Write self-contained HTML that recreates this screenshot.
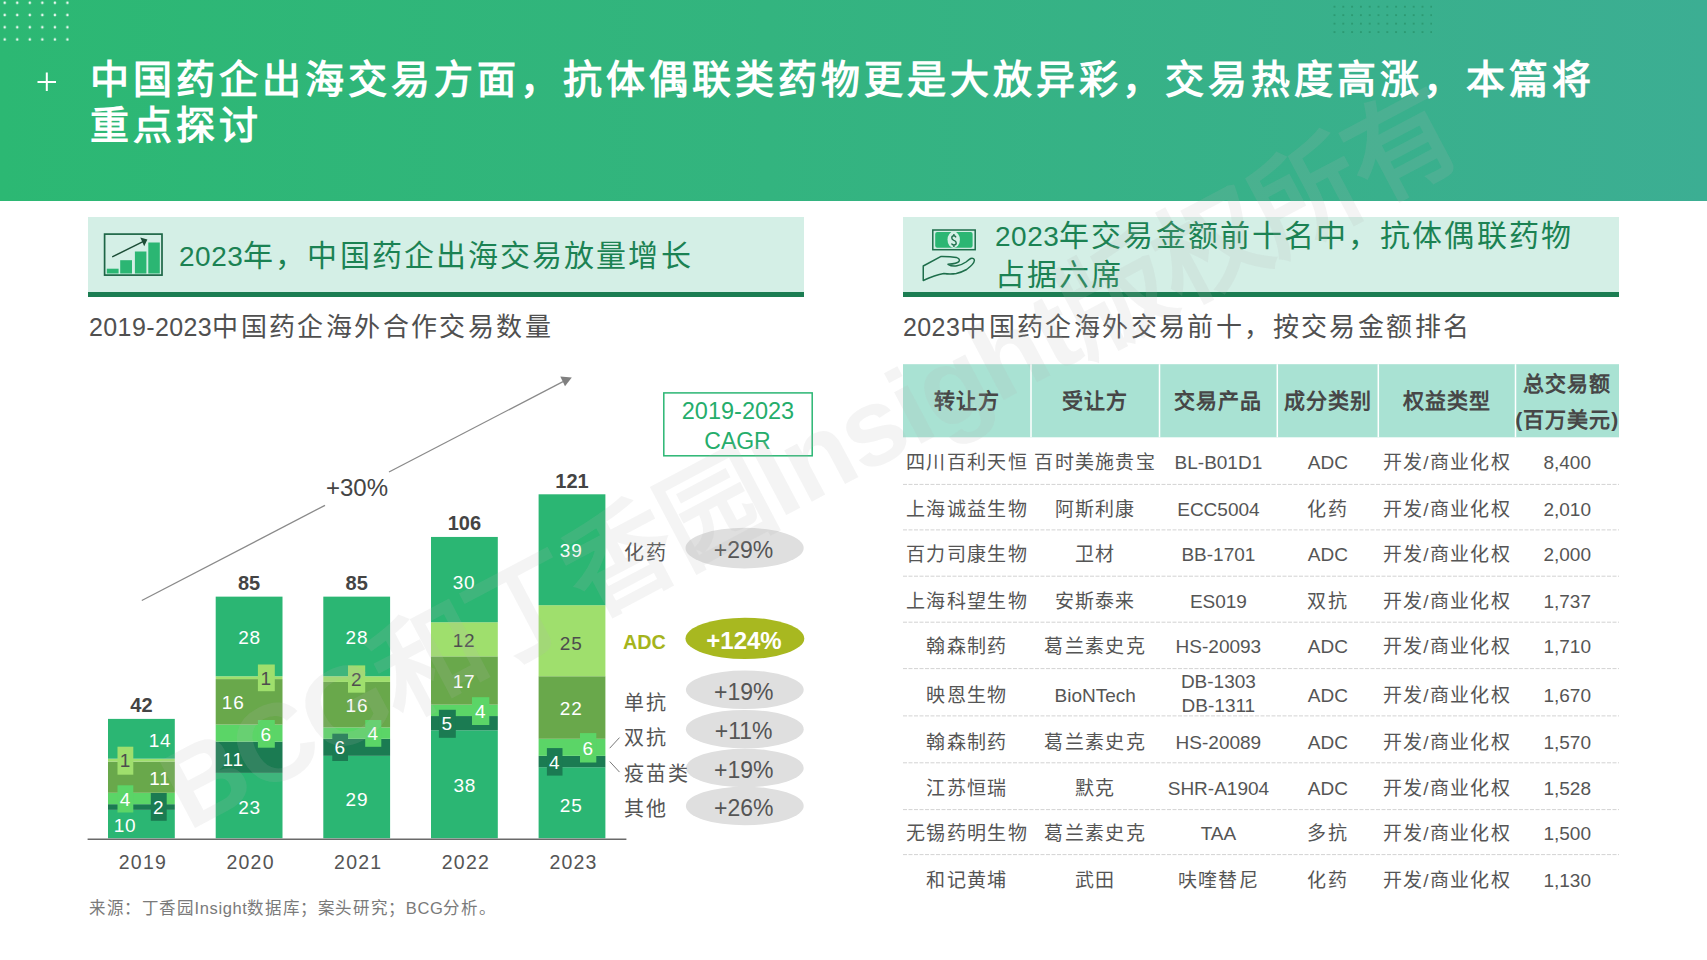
<!DOCTYPE html>
<html lang="zh-CN"><head><meta charset="utf-8"><title>slide</title>
<style>
html,body{margin:0;padding:0;}
body{width:1707px;height:960px;overflow:hidden;position:relative;background:#fff;font-family:"Liberation Sans",sans-serif;}
.abs{position:absolute;white-space:nowrap;}
#hdr{position:absolute;left:0;top:0;width:1707px;height:201px;background:linear-gradient(90deg,#2cb873 0%,#33b47f 45%,#3cae93 100%);}
.ttl{position:absolute;left:90px;color:#fff;font-weight:bold;font-size:39px;letter-spacing:4px;line-height:46px;white-space:nowrap;}
.secbox{position:absolute;top:217px;height:75px;width:716px;background:#d4efe6;border-bottom:5px solid #1b7d52;}
.sect{position:absolute;color:#1b8253;font-size:30px;letter-spacing:2.1px;white-space:nowrap;}
.sub{position:absolute;top:311px;color:#505050;font-size:26px;letter-spacing:2.4px;white-space:nowrap;line-height:32px;}
svg text{font-family:"Liberation Sans",sans-serif;}
.tot{font-size:20px;font-weight:bold;fill:#444;text-anchor:middle;dominant-baseline:central;}
.yr{font-size:19.5px;letter-spacing:1.2px;fill:#555;text-anchor:middle;dominant-baseline:central;}
.bl{font-size:19px;letter-spacing:0.8px;text-anchor:middle;dominant-baseline:central;}
.lg{font-size:20px;fill:#555;letter-spacing:2px;dominant-baseline:central;}
.pct{font-size:23px;fill:#555;text-anchor:middle;dominant-baseline:central;}
.th{font-size:21px;font-weight:bold;fill:#474747;text-anchor:middle;dominant-baseline:central;letter-spacing:1px;}
.td{font-size:19px;fill:#555;text-anchor:middle;dominant-baseline:central;letter-spacing:1.3px;}
.tl{letter-spacing:0;}
</style></head><body>
<div id="hdr"></div>
<svg class="abs" style="left:0;top:0" width="1707" height="201">
<defs>
<pattern id="dw" x="4.7" y="2.8" width="12.55" height="12.25" patternUnits="userSpaceOnUse"><circle cx="0" cy="0" r="1.3" fill="#e9f7ef"/><circle cx="12.55" cy="0" r="1.3" fill="#e9f7ef"/><circle cx="0" cy="12.25" r="1.3" fill="#e9f7ef"/><circle cx="12.55" cy="12.25" r="1.3" fill="#e9f7ef"/></pattern>
<pattern id="dg" x="1334.5" y="6.7" width="8.8" height="8.47" patternUnits="userSpaceOnUse"><circle cx="0" cy="0" r="1.0" fill="#27936a"/><circle cx="8.8" cy="0" r="1.0" fill="#27936a"/><circle cx="0" cy="8.47" r="1.0" fill="#27936a"/><circle cx="8.8" cy="8.47" r="1.0" fill="#27936a"/></pattern>
</defs>
<rect x="3" y="1" width="66" height="40" fill="url(#dw)"/>
<rect x="1333" y="5" width="99" height="29" fill="url(#dg)"/>
<rect x="37.5" y="81" width="18.5" height="2" fill="#fff"/>
<rect x="45.8" y="72.5" width="2" height="18.5" fill="#fff"/>
</svg>
<div class="ttl" style="top:56.5px;">中国药企出海交易方面，抗体偶联类药物更是大放异彩，交易热度高涨，本篇将</div>
<div class="ttl" style="top:102.5px;">重点探讨</div>

<div class="secbox" style="left:88px;"></div>
<div class="secbox" style="left:903px;"></div>
<!-- chart icon -->
<svg class="abs" style="left:0;top:0" width="1707" height="300">
<rect x="104.6" y="234.1" width="57.4" height="41" fill="none" stroke="#1d6546" stroke-width="1.7"/>
<rect x="106.8" y="268.7" width="11.8" height="4.8" fill="#2bb673"/>
<rect x="120.2" y="260.2" width="11.8" height="13.3" fill="#2bb673"/>
<rect x="134.9" y="251.5" width="11.5" height="22" fill="#2bb673"/>
<rect x="148.3" y="242.5" width="11.5" height="31" fill="#2bb673"/>
<line x1="112.2" y1="256.9" x2="144" y2="241.2" stroke="#1d4d37" stroke-width="1.5"/>
<path d="M140.3 237.6 L147.4 239.6 L144.2 246.2 Z" fill="#1d4d37"/>
<!-- money icon -->
<rect x="932.8" y="230" width="42.4" height="19.7" fill="none" stroke="#1e6e4b" stroke-width="1.5"/>
<rect x="935.2" y="232" width="37.4" height="15.8" rx="2" fill="#2bb673"/>
<ellipse cx="953.7" cy="239.8" rx="6.2" ry="8.2" fill="#d4efe6"/>
<path d="M956 237.3 Q955.2 235.8 953.9 235.8 Q951.8 235.8 951.8 237.9 Q951.8 239.6 953.9 240.3 Q956.2 241 956.2 243 Q956.2 245 953.9 245 Q952.2 245 951.5 243.5 M953.9 234.1 L953.9 235.8 M953.9 245 L953.9 246.9" fill="none" stroke="#1e6e4b" stroke-width="1.4"/>
<path d="M923.25 266 L941.1 256.4 Q950 256.3 956.3 257.4 Q960.5 258.8 959 261.5 Q957.5 263.6 948 264.3 Q952 266.8 957 265.8 Q962 264.8 966 262 Q969 259.5 970.7 258.5 Q974.3 257.8 974.4 260.5 Q974 264 966.6 269.5 Q961 272.5 956.3 273.6 Q950 274.6 943.9 273.6 Q935 275.3 923.25 280.5 Z" fill="none" stroke="#1e6e4b" stroke-width="1.5" stroke-linejoin="round"/>
</svg>
<div class="sect" style="left:179px;top:236px;line-height:40px;"><span style="font-size:28px;letter-spacing:0.5px">2023</span>年，中国药企出海交易放量增长</div>
<div class="sect" style="left:995px;top:217px;line-height:38px;"><span style="font-size:28px;letter-spacing:0.5px">2023</span>年交易金额前十名中，抗体偶联药物<br>占据六席</div>

<div class="sub" style="left:89px;"><span style="font-size:25px;letter-spacing:0.4px">2019-2023</span>中国药企海外合作交易数量</div>
<div class="sub" style="left:903px;"><span style="font-size:25px;letter-spacing:0.4px">2023</span>中国药企海外交易前十，按交易金额排名</div>

<svg class="abs" style="left:0;top:0" width="1707" height="960">
<!-- trend arrow -->
<line x1="141.8" y1="600.5" x2="325" y2="505.3" stroke="#8a8a8a" stroke-width="1.3"/>
<line x1="389" y1="472" x2="563" y2="381.6" stroke="#8a8a8a" stroke-width="1.3"/>
<path d="M560.3 376.5 L571.8 377.4 L565 386.3 Z" fill="#808080"/>
<text x="357" y="487.3" font-size="24" fill="#444" text-anchor="middle" dominant-baseline="central">+30%</text>
<!-- CAGR box -->
<rect x="663.8" y="392.9" width="148.4" height="62.9" fill="#fff" stroke="#2bb673" stroke-width="1.5"/>
<text x="738" y="411" font-size="23.5" fill="#25ad6b" text-anchor="middle" dominant-baseline="central">2019-2023</text>
<text x="737.5" y="440.8" font-size="23" fill="#25ad6b" text-anchor="middle" dominant-baseline="central">CAGR</text>
<rect x="108.0" y="809.87" width="66.8" height="28.43" fill="#2bb673"/>
<rect x="108.0" y="804.18" width="66.8" height="5.69" fill="#1b7b52"/>
<rect x="108.0" y="792.81" width="66.8" height="11.37" fill="#5bd567"/>
<rect x="108.0" y="761.54" width="66.8" height="31.27" fill="#69a84b"/>
<rect x="108.0" y="758.70" width="66.8" height="2.84" fill="#9fdf6d"/>
<rect x="108.0" y="718.89" width="66.8" height="39.80" fill="#2bb673"/>
<text x="141.4" y="705.4" class="tot">42</text>
<text x="142.9" y="861.8" class="yr">2019</text>
<rect x="215.7" y="772.91" width="66.8" height="65.39" fill="#2bb673"/>
<rect x="215.7" y="741.64" width="66.8" height="31.27" fill="#1b7b52"/>
<rect x="215.7" y="724.58" width="66.8" height="17.06" fill="#5bd567"/>
<rect x="215.7" y="679.09" width="66.8" height="45.49" fill="#69a84b"/>
<rect x="215.7" y="676.25" width="66.8" height="2.84" fill="#9fdf6d"/>
<rect x="215.7" y="596.64" width="66.8" height="79.60" fill="#2bb673"/>
<text x="249.1" y="583.1" class="tot">85</text>
<text x="250.6" y="861.8" class="yr">2020</text>
<rect x="323.3" y="755.85" width="66.8" height="82.45" fill="#2bb673"/>
<rect x="323.3" y="738.79" width="66.8" height="17.06" fill="#1b7b52"/>
<rect x="323.3" y="727.42" width="66.8" height="11.37" fill="#5bd567"/>
<rect x="323.3" y="681.93" width="66.8" height="45.49" fill="#69a84b"/>
<rect x="323.3" y="676.25" width="66.8" height="5.69" fill="#9fdf6d"/>
<rect x="323.3" y="596.64" width="66.8" height="79.60" fill="#2bb673"/>
<text x="356.7" y="583.1" class="tot">85</text>
<text x="358.2" y="861.8" class="yr">2021</text>
<rect x="431.0" y="730.27" width="66.8" height="108.03" fill="#2bb673"/>
<rect x="431.0" y="716.05" width="66.8" height="14.22" fill="#1b7b52"/>
<rect x="431.0" y="704.68" width="66.8" height="11.37" fill="#5bd567"/>
<rect x="431.0" y="656.35" width="66.8" height="48.33" fill="#69a84b"/>
<rect x="431.0" y="622.23" width="66.8" height="34.12" fill="#9fdf6d"/>
<rect x="431.0" y="536.94" width="66.8" height="85.29" fill="#2bb673"/>
<text x="464.4" y="523.4" class="tot">106</text>
<text x="465.9" y="861.8" class="yr">2022</text>
<rect x="538.6" y="767.22" width="66.8" height="71.08" fill="#2bb673"/>
<rect x="538.6" y="755.85" width="66.8" height="11.37" fill="#1b7b52"/>
<rect x="538.6" y="738.79" width="66.8" height="17.06" fill="#5bd567"/>
<rect x="538.6" y="676.25" width="66.8" height="62.55" fill="#69a84b"/>
<rect x="538.6" y="605.17" width="66.8" height="71.08" fill="#9fdf6d"/>
<rect x="538.6" y="494.30" width="66.8" height="110.88" fill="#2bb673"/>
<text x="572.0" y="480.8" class="tot">121</text>
<text x="573.5" y="861.8" class="yr">2023</text>
<text x="160" y="740" class="bl" fill="#ffffff">14</text>
<rect x="117.5" y="746.7" width="15.8" height="28.0" fill="#9fdf6d"/>
<text x="125.5" y="760.7" class="bl" fill="#4d4d4d">1</text>
<text x="160" y="778.3" class="bl" fill="#ffffff">11</text>
<rect x="117.5" y="785.3" width="15.8" height="27.2" fill="#5bd567"/>
<text x="125.5" y="799" class="bl" fill="#ffffff">4</text>
<rect x="150.8" y="793" width="15.9" height="27.8" fill="#1b7b52"/>
<text x="158.7" y="807" class="bl" fill="#ffffff">2</text>
<text x="125" y="825.8" class="bl" fill="#ffffff">10</text>
<text x="249.5" y="637.2" class="bl" fill="#ffffff">28</text>
<rect x="257.9" y="664.5" width="16.9" height="26.7" fill="#9fdf6d"/>
<text x="266.3" y="678" class="bl" fill="#4d4d4d">1</text>
<text x="233.2" y="702.2" class="bl" fill="#ffffff">16</text>
<rect x="257.9" y="720" width="16.9" height="27.7" fill="#5bd567"/>
<text x="266.3" y="734" class="bl" fill="#ffffff">6</text>
<text x="233.2" y="759.5" class="bl" fill="#ffffff">11</text>
<text x="249.5" y="807" class="bl" fill="#ffffff">23</text>
<text x="356.9" y="637.2" class="bl" fill="#ffffff">28</text>
<rect x="348" y="665.4" width="17.2" height="27.3" fill="#9fdf6d"/>
<text x="356.6" y="679" class="bl" fill="#4d4d4d">2</text>
<text x="356.9" y="705.2" class="bl" fill="#ffffff">16</text>
<rect x="365.2" y="720" width="16.1" height="26.8" fill="#5bd567"/>
<text x="373.3" y="733.4" class="bl" fill="#ffffff">4</text>
<rect x="332.3" y="733.7" width="15.7" height="27.3" fill="#1b7b52"/>
<text x="340.1" y="747.4" class="bl" fill="#ffffff">6</text>
<text x="356.9" y="799.6" class="bl" fill="#ffffff">29</text>
<text x="464" y="582.3" class="bl" fill="#ffffff">30</text>
<text x="464" y="640.8" class="bl" fill="#4d4d4d">12</text>
<text x="464" y="681.8" class="bl" fill="#ffffff">17</text>
<rect x="472" y="697.2" width="17.3" height="27.8" fill="#5bd567"/>
<text x="480.6" y="711" class="bl" fill="#ffffff">4</text>
<rect x="438.9" y="709.8" width="16.9" height="28.0" fill="#1b7b52"/>
<text x="447.3" y="723.8" class="bl" fill="#ffffff">5</text>
<text x="464.8" y="785.3" class="bl" fill="#ffffff">38</text>
<text x="571.2" y="550.4" class="bl" fill="#ffffff">39</text>
<text x="571.2" y="643.4" class="bl" fill="#4d4d4d">25</text>
<text x="571.2" y="708.1" class="bl" fill="#ffffff">22</text>
<rect x="580" y="733.1" width="16.3" height="29.4" fill="#5bd567"/>
<text x="588.1" y="748" class="bl" fill="#ffffff">6</text>
<rect x="546.9" y="748.1" width="15.6" height="27.5" fill="#1b7b52"/>
<text x="554.7" y="762" class="bl" fill="#ffffff">4</text>
<text x="571.2" y="805.8" class="bl" fill="#ffffff">25</text>
<!-- axis -->
<rect x="87.6" y="838.5" width="538.8" height="1.5" fill="#6a6a6a"/>
<!-- legend -->
<ellipse cx="744.6" cy="548.1" rx="59.1" ry="20.3" fill="#dfdfdf"/>
<text x="743.5" y="550.3" class="pct">+29%</text>
<ellipse cx="744.9" cy="638.4" rx="59.4" ry="20.7" fill="#a8b820"/>
<text x="744" y="640.6" font-size="24" font-weight="bold" fill="#fff" text-anchor="middle" dominant-baseline="central">+124%</text>
<ellipse cx="744.8" cy="806" rx="58.9" ry="19.3" fill="#dfdfdf"/>
<ellipse cx="744.8" cy="768" rx="58.9" ry="19.3" fill="#dfdfdf"/>
<ellipse cx="744.8" cy="729.2" rx="58.9" ry="19.3" fill="#dfdfdf"/>
<ellipse cx="744.8" cy="689.8" rx="58.9" ry="19.3" fill="#dfdfdf"/>
<text x="743.7" y="692" class="pct">+19%</text>
<text x="743.7" y="731" class="pct">+11%</text>
<text x="743.7" y="769.5" class="pct">+19%</text>
<text x="743.7" y="808" class="pct">+26%</text>
<text x="623.5" y="552.5" class="lg">化药</text>
<text x="623" y="641.8" font-size="19.8" font-weight="bold" fill="#a5b41c" dominant-baseline="central">ADC</text>
<text x="623.5" y="702.6" class="lg">单抗</text>
<text x="623.5" y="737.8" class="lg">双抗</text>
<text x="623.5" y="774.3" class="lg">疫苗类</text>
<text x="623.5" y="808.5" class="lg">其他</text>
<line x1="609.7" y1="748.2" x2="619.5" y2="737.6" stroke="#777" stroke-width="1"/>
<line x1="609.7" y1="761.5" x2="619.5" y2="772.1" stroke="#777" stroke-width="1"/>
<rect x="903" y="364.2" width="716" height="73.1" fill="#a9e2d3"/>
<rect x="1030.25" y="364.2" width="1.5" height="73.1" fill="#ffffff"/>
<rect x="1158.75" y="364.2" width="1.5" height="73.1" fill="#ffffff"/>
<rect x="1276.55" y="364.2" width="1.5" height="73.1" fill="#ffffff"/>
<rect x="1377.55" y="364.2" width="1.5" height="73.1" fill="#ffffff"/>
<rect x="1514.75" y="364.2" width="1.5" height="73.1" fill="#ffffff"/>
<text x="967.0" y="400.5" class="th">转让方</text>
<text x="1095.2" y="400.5" class="th">受让方</text>
<text x="1218.4" y="400.5" class="th">交易产品</text>
<text x="1327.8" y="400.5" class="th">成分类别</text>
<text x="1446.9" y="400.5" class="th">权益类型</text>
<text x="1567.2" y="383.5" class="th">总交易额</text>
<text x="1567.2" y="419.5" class="th">(百万美元)</text>
<line x1="903" y1="484.4" x2="1619" y2="484.4" stroke="#d3d3d3" stroke-width="1" stroke-dasharray="4,1.5"/>
<line x1="903" y1="529.9" x2="1619" y2="529.9" stroke="#d3d3d3" stroke-width="1" stroke-dasharray="4,1.5"/>
<line x1="903" y1="576.2" x2="1619" y2="576.2" stroke="#d3d3d3" stroke-width="1" stroke-dasharray="4,1.5"/>
<line x1="903" y1="622.2" x2="1619" y2="622.2" stroke="#d3d3d3" stroke-width="1" stroke-dasharray="4,1.5"/>
<line x1="903" y1="668.6" x2="1619" y2="668.6" stroke="#d3d3d3" stroke-width="1" stroke-dasharray="4,1.5"/>
<line x1="903" y1="715.9" x2="1619" y2="715.9" stroke="#d3d3d3" stroke-width="1" stroke-dasharray="4,1.5"/>
<line x1="903" y1="762.8" x2="1619" y2="762.8" stroke="#d3d3d3" stroke-width="1" stroke-dasharray="4,1.5"/>
<line x1="903" y1="809.6" x2="1619" y2="809.6" stroke="#d3d3d3" stroke-width="1" stroke-dasharray="4,1.5"/>
<line x1="903" y1="854.6" x2="1619" y2="854.6" stroke="#d3d3d3" stroke-width="1" stroke-dasharray="4,1.5"/>
<text x="967.0" y="462.1" class="td">四川百利天恒</text>
<text x="1095.2" y="462.1" class="td">百时美施贵宝</text>
<text x="1218.4" y="462.1" class="td tl">BL-B01D1</text>
<text x="1327.8" y="462.1" class="td tl">ADC</text>
<text x="1446.9" y="462.1" class="td">开发/商业化权</text>
<text x="1567.2" y="462.1" class="td tl">8,400</text>
<text x="967.0" y="509.5" class="td">上海诚益生物</text>
<text x="1095.2" y="509.5" class="td">阿斯利康</text>
<text x="1218.4" y="509.5" class="td tl">ECC5004</text>
<text x="1327.8" y="509.5" class="td">化药</text>
<text x="1446.9" y="509.5" class="td">开发/商业化权</text>
<text x="1567.2" y="509.5" class="td tl">2,010</text>
<text x="967.0" y="554.2" class="td">百力司康生物</text>
<text x="1095.2" y="554.2" class="td">卫材</text>
<text x="1218.4" y="554.2" class="td tl">BB-1701</text>
<text x="1327.8" y="554.2" class="td tl">ADC</text>
<text x="1446.9" y="554.2" class="td">开发/商业化权</text>
<text x="1567.2" y="554.2" class="td tl">2,000</text>
<text x="967.0" y="601.0" class="td">上海科望生物</text>
<text x="1095.2" y="601.0" class="td">安斯泰来</text>
<text x="1218.4" y="601.0" class="td tl">ES019</text>
<text x="1327.8" y="601.0" class="td">双抗</text>
<text x="1446.9" y="601.0" class="td">开发/商业化权</text>
<text x="1567.2" y="601.0" class="td tl">1,737</text>
<text x="967.0" y="646.5" class="td">翰森制药</text>
<text x="1095.2" y="646.5" class="td">葛兰素史克</text>
<text x="1218.4" y="646.5" class="td tl">HS-20093</text>
<text x="1327.8" y="646.5" class="td tl">ADC</text>
<text x="1446.9" y="646.5" class="td">开发/商业化权</text>
<text x="1567.2" y="646.5" class="td tl">1,710</text>
<text x="967.0" y="695.3" class="td">映恩生物</text>
<text x="1095.2" y="695.3" class="td tl">BioNTech</text>
<text x="1218.4" y="681.2" class="td tl">DB-1303</text>
<text x="1218.4" y="705.1" class="td tl">DB-1311</text>
<text x="1327.8" y="695.3" class="td tl">ADC</text>
<text x="1446.9" y="695.3" class="td">开发/商业化权</text>
<text x="1567.2" y="695.3" class="td tl">1,670</text>
<text x="967.0" y="742.2" class="td">翰森制药</text>
<text x="1095.2" y="742.2" class="td">葛兰素史克</text>
<text x="1218.4" y="742.2" class="td tl">HS-20089</text>
<text x="1327.8" y="742.2" class="td tl">ADC</text>
<text x="1446.9" y="742.2" class="td">开发/商业化权</text>
<text x="1567.2" y="742.2" class="td tl">1,570</text>
<text x="967.0" y="788.3" class="td">江苏恒瑞</text>
<text x="1095.2" y="788.3" class="td">默克</text>
<text x="1218.4" y="788.3" class="td tl">SHR-A1904</text>
<text x="1327.8" y="788.3" class="td tl">ADC</text>
<text x="1446.9" y="788.3" class="td">开发/商业化权</text>
<text x="1567.2" y="788.3" class="td tl">1,528</text>
<text x="967.0" y="833.9" class="td">无锡药明生物</text>
<text x="1095.2" y="833.9" class="td">葛兰素史克</text>
<text x="1218.4" y="833.9" class="td tl">TAA</text>
<text x="1327.8" y="833.9" class="td">多抗</text>
<text x="1446.9" y="833.9" class="td">开发/商业化权</text>
<text x="1567.2" y="833.9" class="td tl">1,500</text>
<text x="967.0" y="880.8" class="td">和记黄埔</text>
<text x="1095.2" y="880.8" class="td">武田</text>
<text x="1218.4" y="880.8" class="td">呋喹替尼</text>
<text x="1327.8" y="880.8" class="td">化药</text>
<text x="1446.9" y="880.8" class="td">开发/商业化权</text>
<text x="1567.2" y="880.8" class="td tl">1,130</text>
</svg>
<div class="abs" style="left:89px;top:894.5px;font-size:16.5px;color:#7a7a7a;letter-spacing:0.6px;">来源：丁香园Insight数据库；案头研究；BCG分析。</div>
<svg class="abs" style="left:0;top:0;pointer-events:none" width="1707" height="960">
<text x="188.4" y="831.6" transform="rotate(-27.9 188.4 831.6)" font-size="110" font-weight="bold" fill="#b8b8b8" fill-opacity="0.15" textLength="1448" lengthAdjust="spacing">BCG和丁香园Insight版权所有</text>
</svg>
</body></html>
